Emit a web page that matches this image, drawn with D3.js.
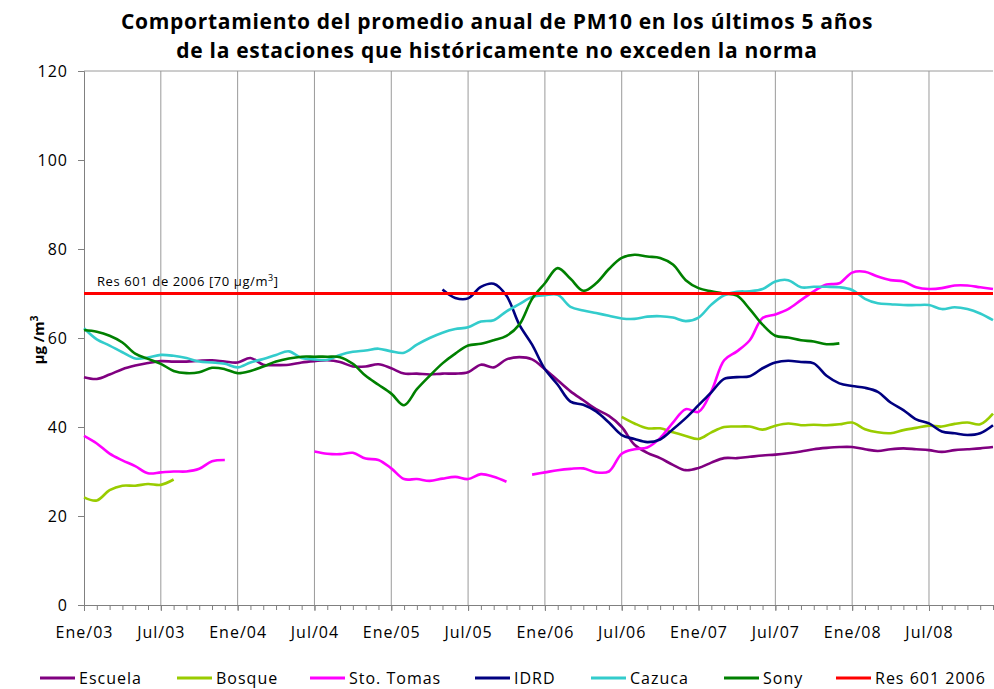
<!DOCTYPE html>
<html>
<head>
<meta charset="utf-8">
<script src="https://cdn.jsdelivr.net/npm/d3@7"></script>
<style>
  body { margin: 0; background: #fff; }
  text { font-family: "Open Sans", sans-serif; fill: #000; }
</style>
</head>
<body>
<div class="chart"></div>
<script>
// monthly categories Ene/03 .. Dic/08
var months = d3.range(72);
var tickIdx = [0, 6, 12, 18, 24, 30, 36, 42, 48, 54, 60, 66];
var tickLabels = ['Ene/03', 'Jul/03', 'Ene/04', 'Jul/04', 'Ene/05', 'Jul/05',
                  'Ene/06', 'Jul/06', 'Ene/07', 'Jul/07', 'Ene/08', 'Jul/08'];
var yTicks = [0, 20, 40, 60, 80, 100, 120];

var escuela = [51.2, 50.8, 51.8, 53, 53.8, 54.4, 54.8, 54.7, 54.7, 54.9, 55, 54.7,
  54.5, 55.5, 54, 53.9, 54, 54.5, 54.8, 55, 54.6, 53.6, 53.6, 54.1,
  53.2, 52, 52, 51.8, 52, 52, 52.3, 54, 53.4, 55.2, 55.7, 55.2,
  53, 50.5, 48, 46, 44, 42.5, 40, 36, 34.2, 33, 31.5, 30.3,
  30.8, 32, 33, 33, 33.3, 33.6, 33.8, 34.1, 34.5, 35, 35.3, 35.5,
  35.5, 35, 34.6, 35, 35.2, 35, 34.8, 34.4, 34.8, 35, 35.2, 35.5];

var bosque = [24.2, 23.5, 25.8, 26.8, 26.8, 27.2, 27, 28.2, null, null, null, null,
  null, null, null, null, null, null, null, null, null, null, null, null,
  null, null, null, null, null, null, null, null, null, null, null, null,
  null, null, null, null, null, null, 42.3, 40.8, 39.7, 39.7, 38.8, 38,
  37.3, 38.8, 40, 40.1, 40.1, 39.4, 40.3, 40.8, 40.4, 40.5, 40.4, 40.6,
  41, 39.5, 38.8, 38.6, 39.3, 39.8, 40.3, 40.1, 40.7, 41, 40.6, 43];

var stoTomas = [38, 36.3, 34, 32.5, 31.2, 29.6, 29.8, 30, 30, 30.6, 32.3, 32.6,
  null, null, null, null, null, null, 34.5, 34, 33.9, 34.2, 32.9, 32.6,
  30.7, 28.3, 28.3, 27.9, 28.4, 28.8, 28.3, 29.4, 28.8, 27.7, null, 29.3,
  29.8, 30.3, 30.6, 30.7, 29.8, 30, 34, 35, 35.4, 37.5, 41, 44,
  43.4, 48, 55, 57, 59.5, 64.5, 65.3, 66.5, 68.5, 70.5, 72, 72.3,
  74.7, 74.9, 73.8, 73, 72.7, 71.4, 71, 71.2, 71.8, 71.8, 71.4, 71];

var idrd = [null, null, null, null, null, null, null, null, null, null, null, null,
  null, null, null, null, null, null, null, null, null, null, null, null,
  null, null, null, null, 70.9, 69, 68.9, 71.5, 72.2, 69.5, 63, 58.5,
  53, 49.5, 45.7, 45, 43.5, 41, 38.2, 37.3, 36.6, 37.2, 39.5, 42,
  44.9, 47.8, 50.8, 51.2, 51.4, 53.2, 54.5, 54.9, 54.6, 54.3, 51.5, 49.8,
  49.2, 48.8, 47.9, 45.5, 43.8, 41.7, 40.8, 39, 38.6, 38.2, 38.6, 40.4];

var cazuca = [62.2, 59.7, 58.3, 56.8, 55.4, 55.6, 56.2, 56, 55.5, 54.7, 54.5, 54.2,
  53.4, 54.5, 55.3, 56.2, 57, 55.5, 55.2, 55.1, 56.2, 56.9, 57.2, 57.6,
  57, 56.7, 58.5, 60, 61.2, 62, 62.4, 63.7, 64, 66, 67.6, 69.2,
  69.6, 69.7, 67, 66.2, 65.6, 65, 64.4, 64.3, 64.8, 64.9, 64.6, 63.8,
  64.6, 67.5, 69.6, 70.4, 70.5, 71, 72.7, 73, 71.4, 71.5, 71.5, 71.4,
  70.8, 68.8, 67.8, 67.6, 67.4, 67.4, 67.4, 66.5, 66.9, 66.5, 65.5, 64];

var sony = [61.8, 61.4, 60.5, 59, 56.5, 55.3, 54.2, 52.6, 52.1, 52.3, 53.3, 53,
  52.1, 52.6, 53.6, 54.7, 55.4, 55.8, 55.8, 55.8, 55.7, 54.2, 51.5, 49.5,
  47.5, 44.9, 48.5, 51.5, 54.3, 56.5, 58.3, 58.7, 59.5, 60.5, 63, 68.8,
  72.3, 75.7, 73.3, 70.6, 72.3, 75.5, 78, 78.7, 78.3, 78, 76.5, 73,
  71.2, 70.5, 70, 69.5, 66.5, 63, 60.5, 60.1, 59.5, 59.2, 58.6, 58.8,
  null, null, null, null, null, null, null, null, null, null, null, null];

var norma = months.map(function () { return 70; });

var seriesNames = ['Escuela', 'Bosque', 'Sto. Tomas', 'IDRD', 'Cazuca', 'Sony', 'Res 601 2006'];
var seriesValues = [escuela, bosque, stoTomas, idrd, cazuca, sony, norma];
var seriesColors = ['#800080', '#99cc00', '#ff00ff', '#000080', '#33cccc', '#008000', '#ff0000'];

var margin = {top: 71, right: 1, bottom: 84, left: 84};
var width = 994 - margin.left - margin.right;
var height = 689 - margin.top - margin.bottom;

var root = d3.select('.chart')
  .append('svg')
    .attr('width', 994)
    .attr('height', 689);

var svg = root.append('g')
    .attr('transform', `translate(${margin.left}, ${margin.top})`);

var xScale = d3.scaleLinear()
  .domain([0, 71])
  .range([0, width]);

var yScale = d3.scaleLinear()
  .domain([0, 120])
  .range([height, 0]);

// title
var title = root.append('text')
  .attr('text-anchor', 'middle')
  .style('font-weight', 'bold')
  .style('font-size', '21px')
  .style('letter-spacing', '0.7px');
title.append('tspan').attr('x', 497).attr('y', 29)
  .text('Comportamiento del promedio anual de PM10 en los últimos 5 años');
title.append('tspan').attr('x', 497).attr('y', 58)
  .text('de la estaciones que históricamente no exceden la norma');

// vertical gridlines every 6 months
svg.append('g')
  .selectAll('line')
  .data(tickIdx.slice(1))
  .enter()
  .append('line')
    .attr('x1', d => xScale(d))
    .attr('x2', d => xScale(d))
    .attr('y1', 0)
    .attr('y2', height)
    .attr('stroke', '#9a9a9a')
    .attr('stroke-width', 1);

// top line at 120
svg.append('line')
  .attr('x1', 0).attr('x2', width)
  .attr('y1', yScale(120)).attr('y2', yScale(120))
  .attr('stroke', '#9a9a9a');

// y axis
var yAxis = svg.append('g')
  .call(d3.axisLeft(yScale).tickValues(yTicks).tickSize(6).tickPadding(10));
yAxis.select('.domain').attr('stroke', '#808080');
yAxis.selectAll('.tick line').attr('stroke', '#808080');
yAxis.selectAll('text')
  .style('font-size', '16px')
  .style('letter-spacing', '1px')
  .style('font-family', '"Open Sans", sans-serif');

// x axis, monthly minor ticks
var xMinor = svg.append('g')
  .attr('transform', `translate(0, ${height})`)
  .call(d3.axisBottom(xScale).tickValues(months).tickSize(5).tickFormat(''));
xMinor.select('.domain').attr('stroke', '#808080');
xMinor.selectAll('.tick line').attr('stroke', '#808080');

var xAxis = svg.append('g')
  .attr('transform', `translate(0, ${height})`)
  .call(d3.axisBottom(xScale).tickValues(tickIdx).tickSize(6).tickPadding(16)
    .tickFormat((d, i) => tickLabels[i]));
xAxis.select('.domain').remove();
xAxis.selectAll('.tick line').attr('stroke', '#808080');
xAxis.selectAll('text')
  .style('font-size', '16px')
  .style('letter-spacing', '1px')
  .style('font-family', '"Open Sans", sans-serif');

// y axis title
var yTitle = root.append('text')
  .attr('transform', 'translate(44, 340) rotate(-90)')
  .attr('text-anchor', 'middle')
  .style('font-weight', 'bold')
  .style('font-size', '15px');
yTitle.append('tspan').text('µg /m');
yTitle.append('tspan').attr('dy', -6).style('font-size', '10px').text('3');

// lines
var line = d3.line()
  .defined(d => d != null)
  .x((d, i) => xScale(i))
  .y(d => yScale(d))
  .curve(d3.curveCatmullRom.alpha(0.5));

seriesValues.forEach(function (vals, k) {
  svg.append('path')
    .datum(vals)
    .attr('fill', 'none')
    .attr('stroke', seriesColors[k])
    .attr('stroke-width', k === 6 ? 3 : 2.6)
    .attr('stroke-linejoin', 'round')
    .attr('d', line);
});

// norm label
var normLabel = svg.append('text')
  .attr('x', 13)
  .attr('y', yScale(70) - 8)
  .style('font-size', '13px')
  .style('letter-spacing', '0.6px');
normLabel.append('tspan').text('Res 601 de 2006 [70 µg/m');
normLabel.append('tspan').attr('dy', -5).style('font-size', '9px').text('3');
normLabel.append('tspan').attr('dy', 5).text(']');

// legend
var legendX = [40, 177, 310, 475, 591, 724, 836];
var legend = root.append('g')
  .selectAll('g')
  .data(seriesNames)
  .enter()
  .append('g')
    .attr('transform', (d, i) => `translate(${legendX[i]}, 678)`);

legend.append('line')
  .attr('x1', 0).attr('x2', 35)
  .attr('y1', 0).attr('y2', 0)
  .attr('stroke', (d, i) => seriesColors[i])
  .attr('stroke-width', 3);

legend.append('text')
  .attr('x', 39)
  .attr('y', 0)
  .attr('dy', '0.35em')
  .style('font-size', '16px')
  .style('letter-spacing', '1px')
  .text(d => d);
</script>
</body>
</html>
